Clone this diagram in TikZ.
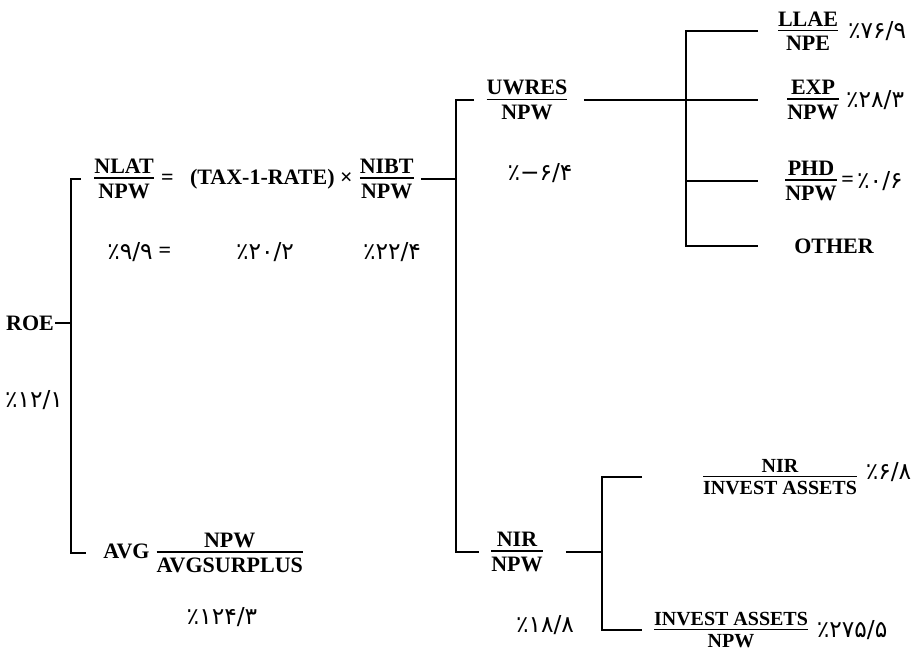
\documentclass[tikz,border=0pt]{standalone}
\usepackage{amsmath}
\usepackage{fontspec}
\setmainfont{Liberation Serif}
\newfontfamily\farsi[Script=Arabic]{DejaVu Sans}
\usetikzlibrary{positioning}
\newcommand{\bruch}[2]{$\genfrac{}{}{1.2pt}{1}{\rule[-1.5pt]{0pt}{1.5pt}\textstyle\text{#1}}{\rule{0pt}{0.8em}\textstyle\text{#2}}$}

\begin{document}
\begin{tikzpicture}[
	x=0.75pt, y=-0.75pt,
	every node/.style={font=\bfseries\fontsize{16.5}{19}\selectfont, inner sep=1pt},
	schmal/.style={font=\bfseries\fontsize{15}{18}\selectfont},
	pz/.style={font=\farsi\fontsize{17.5}{20}\selectfont},
	line/.style={draw, line width=1.1pt},
	]
	\useasboundingbox (0,0) rectangle (919,655);
	\node (roe) at (30,323) {ROE};
	\node[pz] (roepct) at (34,400) {٪۱۲/۱};
	\node (eq) at (254,179) {\bruch{NLAT}{NPW}\ = \enspace(TAX-1-RATE) × \bruch{NIBT}{NPW}};
	\node[pz] (eqpct1) at (130,252) {٪۹/۹};
	\node[right=2pt of eqpct1] (eqgl) {=};
	\node[pz] (eqpct2) at (265,252) {٪۲۰/۲};
	\node[pz] (eqpct3) at (392,252) {٪۲۲/۴};
	\node (avg) at (204,553) {AVG \bruch{NPW}{AVGSURPLUS}};
	\node[pz] (avgpct) at (222,617) {٪۱۲۴/۳};
	\node (uwres) at (527,100) {\bruch{UWRES}{NPW}};
	\node[pz] (uwpct) at (540,173) {٪\kern0pt−\kern0pt۶/۴};
	\node (nir) at (517,552) {\bruch{NIR}{NPW}};
	\node[pz] (nirpct) at (545,625) {٪۱۸/۸};
	\node (llae) at (808,31) {\bruch{LLAE}{NPE}};
	\node[pz, right=4pt of llae] (llaepct) {٪۷۶/۹};
	\node (exp) at (813,100) {\bruch{EXP}{NPW}};
	\node[pz, right=2pt of exp] (exppct) {٪۲۸/۳};
	\node (phd) at (811,181) {\bruch{PHD}{NPW}};
	\node[right=0pt of phd] (phdgl) {=};
	\node[pz, right=0pt of phdgl] (phdpct) {٪۰/۶};
	\node (other) at (834,246) {OTHER};
	\node[schmal] (nirinv) at (780,477) {\bruch{NIR}{INVEST ASSETS}};
	\node[pz, right=3pt of nirinv, yshift=4pt] (nirinvpct) {٪۶/۸};
	\node[schmal] (invnpw) at (731,630) {\bruch{INVEST ASSETS}{NPW}};
	\node[pz, right=3pt of invnpw] (invnpwpct) {٪۲۷۵/۵};

	\coordinate (s1) at (71,323);
	\coordinate (s2) at (456,179);
	\coordinate (s3) at (686,100);
	\coordinate (s4) at (602,552);
	\coordinate (t3) at (758,0);
	\coordinate (t4) at (642,0);

	%Verbindungslinien
	\path[line] ([xshift=-8pt]eq.west) -| (s1) |- ([xshift=-12pt]avg.west);
	\path[line] (roe) -- (s1);
	\path[line, shorten <=3pt] (eq) -- (s2);
	\path[line, shorten <=7pt, shorten >=7pt] (uwres) -| (s2) |- (nir);
	\path[line, shorten <=10pt] (uwres) -- (exp.west -| t3);
	\path[line] (llae.west -| t3) -| (s3) |- (other.west -| t3);
	\path[line] (phd.west -| s3) -- (phd.west -| t3);
	\path[line, shorten <=15pt] (nir) -- (s4);
	\path[line] (nirinv.west -| t4) -| (s4) |- (invnpw.west -| t4);
\end{tikzpicture}
\end{document}
